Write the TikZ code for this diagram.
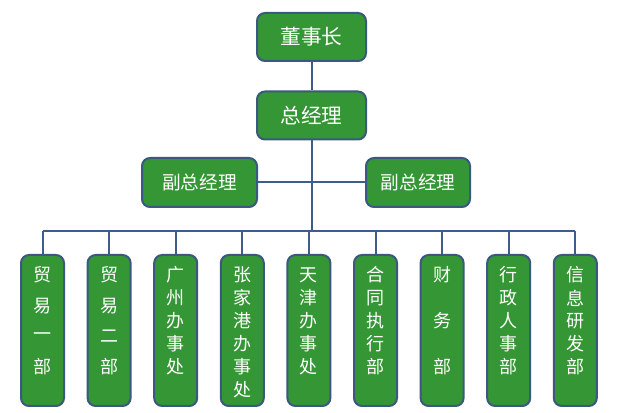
\documentclass[tikz,border=0pt]{standalone}
\usepackage{fontspec}
\newfontfamily\cjk{Noto Sans CJK SC}
\definecolor{boxgreen}{RGB}{52,150,52}
\definecolor{boxborder}{RGB}{58,88,128}
\definecolor{linecol}{RGB}{62,92,140}
\tikzset{
  box/.style={draw=boxborder, fill=boxgreen, line width=1.5pt, rounded corners=6pt,
    inner sep=0pt, text=white, font=\cjk},
  topbox/.style={box, minimum width=81.75pt, minimum height=36pt, font=\cjk\fontsize{15.5}{18}\selectfont},
  vicebox/.style={box, minimum height=36.75pt, font=\cjk\fontsize{14}{16}\selectfont},
  dept/.style={box, minimum width=32.25pt, minimum height=113.25pt},
  ch/.style={inner sep=0pt, text=white, font=\cjk\fontsize{13.5}{15}\selectfont},
  conn/.style={draw=linecol, line width=1.5pt}
}
\begin{document}
\begin{tikzpicture}[x=0.75pt,y=-0.75pt]
\useasboundingbox (0,0) rectangle (618,413);
\node[topbox] (chair) at (311.5,37) {董事长};
\node[topbox] (gm) at (311.5,115.5) {总经理};
\node[vicebox, minimum width=86.25pt] (v1) at (199.5,182.5) {副总经理};
\node[vicebox, minimum width=78pt] (v2) at (418,182.5) {副总经理};
\coordinate (busL) at (42.5,231);
\coordinate (busR) at (575.3,231);
\coordinate (bus) at (311.5,231);
\draw[conn] (chair) -- (gm);
\draw[conn] (v1) -- (v2);
\draw[conn] (gm) -- (bus);
\draw[conn] (busL) -- (busR);
\foreach \chars [count=\i] in {{贸,易,一,部},{贸,易,二,部},{广,州,办,事,处},{张,家,港,办,事,处},{天,津,办,事,处},{合,同,执,行,部},{财,务,部},{行,政,人,事,部},{信,息,研,发,部}} {
  \pgfmathsetmacro\cx{42.5+66.6*(\i-1)}
  \node[dept] (d\i) at (\cx,330.5) {};
  \draw[conn] (d\i.north) -- (d\i.north |- bus);
  \foreach \c [count=\j] in \chars {\xdef\nchars{\j}}
  \pgfmathsetmacro\sp{\nchars==6 ? 23 : 92/(\nchars-1)}
  \foreach \c [count=\j] in \chars {
    \node[ch] (d\i c\j) at (\cx,{275+(\j-1)*\sp}) {\c};
  }
}
\end{tikzpicture}
\end{document}
